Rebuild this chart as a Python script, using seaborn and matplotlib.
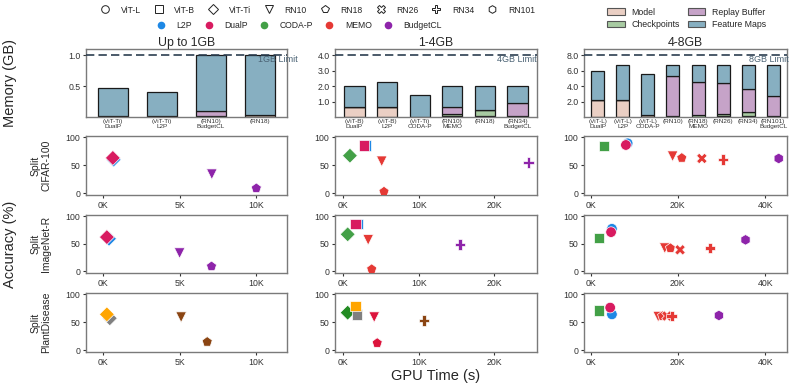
import numpy as np
import pandas as pd
import matplotlib
matplotlib.use("Agg")
import matplotlib.pyplot as plt
from matplotlib.lines import Line2D
from matplotlib.patches import Patch
import matplotlib.transforms as mtrans
import seaborn as sns

# ---------------- data ----------------
# memory bars (GB)
mem_titles = ["Up to 1GB", "1-4GB", "4-8GB"]
mem_limits = [1.0, 4.0, 8.0]

bar_labels_1 = ["(ViT-Ti)\nDualP", "(ViT-Ti)\nL2P", "(RN10)\nBudgetCL", "(RN18)"]
model_1 = [0.01, 0.01, 0.01, 0.04]
ckpt_1 = [0.0, 0.0, 0.0, 0.0]
replay_1 = [0.0, 0.0, 0.09, 0.0]
total_1 = [0.47, 0.40, 1.0, 1.0]

bar_labels_2 = ["(ViT-B)\nDualP", "(ViT-B)\nL2P", "(ViT-Ti)\nCODA-P", "(RN10)\nMEMO", "(RN18)", "(RN34)\nBudgetCL"]
model_2 = [0.65, 0.65, 0.02, 0.05, 0.04, 0.08]
ckpt_2 = [0.0, 0.0, 0.0, 0.15, 0.41, 0.0]
replay_2 = [0.0, 0.0, 0.0, 0.45, 0.0, 0.82]
total_2 = [2.0, 2.25, 1.45, 2.0, 2.0, 2.0]

bar_labels_3 = ["(ViT-L)\nDualP", "(ViT-L)\nL2P", "(ViT-L)\nCODA-P", "(RN10)", "(RN18)\nMEMO", "(RN26)", "(RN34)", "(RN101)\nBudgetCL"]
model_3 = [2.25, 2.25, 0.3, 0.1, 0.05, 0.1, 0.1, 0.15]
ckpt_3 = [0.0, 0.0, 0.0, 0.0, 0.25, 0.35, 0.5, 0.0]
replay_3 = [0.0, 0.0, 0.0, 5.2, 4.25, 4.0, 3.0, 2.6]
total_3 = [5.9, 6.7, 5.6, 6.7, 6.7, 6.7, 6.7, 6.7]

# accuracy vs GPU time
datasets = ["Split\nCIFAR-100", "Split\nImageNet-R", "Split\nPlantDisease"]

# Up to 1GB
m1_method = ["L2P", "DualP", "BudgetCL", "BudgetCL"]
m1_backbone = ["ViT-Ti", "ViT-Ti", "RN10", "RN18"]
m1_time = [[700, 650, 7100, 10000],
           [400, 260, 5000, 7080],
           [450, 260, 5100, 6800]]
m1_acc = [[60, 63, 34, 9],
          [59, 62, 33, 9],
          [57, 64, 59, 15]]

# 1-4GB
m2_method = ["CODA-P", "L2P", "DualP", "MEMO", "MEMO", "BudgetCL"]
m2_backbone = ["ViT-Ti", "ViT-B", "ViT-B", "RN10", "RN18", "RN34"]
m2_time = [[880, 2950, 2750, 5100, 5400, 24600],
           [580, 1850, 1650, 3300, 3770, 15500],
           [580, 1800, 1650, 4100, 4500, 10700]]
m2_acc = [[67, 85, 85, 57, 3, 55],
          [67, 86, 86, 57, 4, 49],
          [67, 64, 79, 59, 13, 53]]

# 4-8GB
m3_method = ["CODA-P", "L2P", "DualP", "MEMO", "MEMO", "MEMO", "MEMO", "BudgetCL"]
m3_backbone = ["ViT-B", "ViT-L", "ViT-L", "RN10", "RN18", "RN26", "RN34", "RN101"]
m3_time = [[3100, 8500, 8100, 18800, 20900, 25500, 30300, 43100],
           [1900, 4900, 4700, 17000, 18300, 20500, 27400, 35500],
           [1900, 4900, 4500, 15500, 16500, 17500, 18600, 29400]]
m3_acc = [[84, 89, 86, 66, 63, 62, 60, 62],
          [60, 77, 71, 42, 42, 39, 42, 57],
          [71, 64, 76, 60, 61, 61, 61, 62]]

backbones = ["ViT-L", "ViT-B", "ViT-Ti", "RN10", "RN18", "RN26", "RN34", "RN101"]
methods = ["L2P", "DualP", "CODA-P", "MEMO", "BudgetCL"]

# ---------------- styles ----------------
markers = {"ViT-L": "o", "ViT-B": "s", "ViT-Ti": "D", "RN10": "v", "RN18": "p",
           "RN26": "X", "RN34": "P", "RN101": "h"}
palette = {"L2P": "#1E88E5", "DualP": "#D81B60", "CODA-P": "#43A047",
           "MEMO": "#E53935", "BudgetCL": "#8E24AA"}
palette_alt = {"L2P": "#808080", "DualP": "#FFA500", "CODA-P": "#228B22",
               "MEMO": "#DC143C", "BudgetCL": "#8B4513"}
comp_colors = {"Model": "#EACFC4", "Checkpoints": "#A8CBA2",
               "Replay Buffer": "#C6A3C8", "Feature Maps": "#87AFC1"}

sns.set_style("ticks", {"axes.edgecolor": "#7a7a7a", "xtick.color": "#333333",
                        "ytick.color": "#333333"})
plt.rcParams["font.family"] = ["Liberation Sans", "DejaVu Sans"]
plt.rcParams["axes.linewidth"] = 1.0

fig = plt.figure(figsize=(7.93, 3.85), dpi=100)

lefts = [86 / 793, 335 / 793, 584 / 793]
widths = [201 / 793, 202 / 793, 203 / 793]
row_tops = [49, 136, 215, 293]
row_bots = [117, 195, 273, 352]

def rect(c, r):
    return [lefts[c], 1 - row_bots[r] / 385, widths[c], (row_bots[r] - row_tops[r]) / 385]

# ---------------- bar row ----------------
bar_sets = [
    (bar_labels_1, model_1, ckpt_1, replay_1, total_1, 0.6, (-0.55, 3.55), [0.5, 1.0], 0.856),
    (bar_labels_2, model_2, ckpt_2, replay_2, total_2, 0.62, (-0.6, 5.6), [1.0, 2.0, 3.0, 4.0], 0.80),
    (bar_labels_3, model_3, ckpt_3, replay_3, total_3, 0.52, (-0.55, 7.55), [2.0, 4.0, 6.0, 8.0], 0.815),
]
for c, (labels, mo, ck, rp, tot, bw, xl, yt, tx) in enumerate(bar_sets):
    ax = fig.add_axes(rect(c, 0))
    x = np.arange(len(labels))
    mo = np.array(mo); ck = np.array(ck); rp = np.array(rp); tot = np.array(tot)
    fm = tot - mo - ck - rp
    bottom = np.zeros(len(labels))
    for name, vals in [("Model", mo), ("Checkpoints", ck), ("Replay Buffer", rp), ("Feature Maps", fm)]:
        ax.bar(x, vals, bottom=bottom, width=bw, color=comp_colors[name],
               edgecolor="#1a1a1a", linewidth=0.9, zorder=2)
        bottom = bottom + vals
    lim = mem_limits[c]
    ax.axhline(lim, color="#2C3E50", linestyle=(0, (5, 2.5)), linewidth=1.2, zorder=3)
    ax.text(tx, lim, f"{int(lim)}GB Limit", transform=mtrans.blended_transform_factory(ax.transAxes, ax.transData),
            ha="left", va="top", fontsize=6.5, color="#4A6274", clip_on=False)
    ax.set_xlim(*xl)
    ax.set_ylim(0, lim * 1.1)
    ax.set_yticks(yt)
    ax.set_yticklabels([f"{v:.1f}" for v in yt], fontsize=6.3)
    ax.set_xticks(x)
    ax.set_xticklabels(labels, fontsize=4.6, linespacing=1.0)
    ax.tick_params(axis="x", length=0, pad=1.5)
    ax.tick_params(axis="y", length=2.5, width=0.8, pad=1.5)
    ax.set_title(mem_titles[c], fontsize=8.8, pad=2.5)

# ---------------- scatter rows ----------------
scat_sets = [
    (m1_method, m1_backbone, m1_time, m1_acc, (-1100, 12000), [0, 5000, 10000]),
    (m2_method, m2_backbone, m2_time, m2_acc, (-1100, 25700), [0, 10000, 20000]),
    (m3_method, m3_backbone, m3_time, m3_acc, (-1500, 45000), [0, 20000, 40000]),
]
for c, (meth, bb, tm, acc, xl, xt) in enumerate(scat_sets):
    for r in range(3):
        ax = fig.add_axes(rect(c, r + 1))
        df = pd.DataFrame({"time": tm[r], "acc": acc[r], "method": meth, "backbone": bb})
        pal = palette_alt if (r == 2 and c < 2) else palette
        sns.scatterplot(data=df, x="time", y="acc", hue="method", style="backbone",
                        palette=pal, markers=markers, s=58, edgecolor="white",
                        linewidth=0.5, legend=False, ax=ax, zorder=3)
        ax.set_xlim(*xl)
        ax.set_ylim(-3, 102)
        ax.set_xticks(xt)
        ax.set_xticklabels([f"{v // 1000}K" for v in xt], fontsize=6.3)
        ax.set_yticks([0, 50, 100])
        ax.set_yticklabels(["0", "50", "100"], fontsize=6.3)
        ax.tick_params(length=2.5, width=0.8, pad=1.5)
        ax.set_xlabel("")
        ax.set_ylabel("")
        if c == 0:
            yc = 1 - (row_tops[r + 1] + row_bots[r + 1]) / 2 / 385
            fig.text(41 / 793, yc, datasets[r], rotation=90, ha="center", va="center",
                     fontsize=7.5, multialignment="center", linespacing=1.0)
        if c == 1 and r == 2:
            ax.set_xlabel("GPU Time (s)", fontsize=10.5, labelpad=2)

fig.text(0.013, 1 - 83 / 385, "Memory (GB)", rotation=90, ha="center", va="center", fontsize=10.5)
fig.text(0.013, 1 - 244 / 385, "Accuracy (%)", rotation=90, ha="center", va="center", fontsize=10.5)

# ---------------- legends ----------------
mk_handles = [Line2D([], [], linestyle="none", marker=markers[b], markersize=5.5,
                     markerfacecolor="white", markeredgecolor="#222222", markeredgewidth=0.7)
              for b in backbones]
leg1 = fig.legend(mk_handles, backbones, loc="center", bbox_to_anchor=(0.398, 0.974), ncol=8,
                  frameon=False, fontsize=6.2, columnspacing=1.1, handletextpad=0.8,
                  borderaxespad=0, borderpad=0)
col_handles = [Line2D([], [], linestyle="none", marker="o", markersize=5.5,
                      markerfacecolor=palette[m], markeredgecolor="none") for m in methods]
leg2 = fig.legend(col_handles, methods, loc="center", bbox_to_anchor=(0.375, 0.935), ncol=5,
                  frameon=False, fontsize=6.2, columnspacing=0.9, handletextpad=0.8,
                  borderaxespad=0, borderpad=0)
comp_order = ["Model", "Checkpoints", "Replay Buffer", "Feature Maps"]
comp_handles = [Patch(facecolor=comp_colors[k], edgecolor="#555555", linewidth=0.8) for k in comp_order]
leg3 = fig.legend(comp_handles, comp_order, loc="center", bbox_to_anchor=(0.866, 0.953), ncol=2,
                  frameon=False, fontsize=6.3, columnspacing=0.9, handletextpad=0.8,
                  labelspacing=0.35, borderaxespad=0, borderpad=0)

fig.savefig("out.png", dpi=100)
